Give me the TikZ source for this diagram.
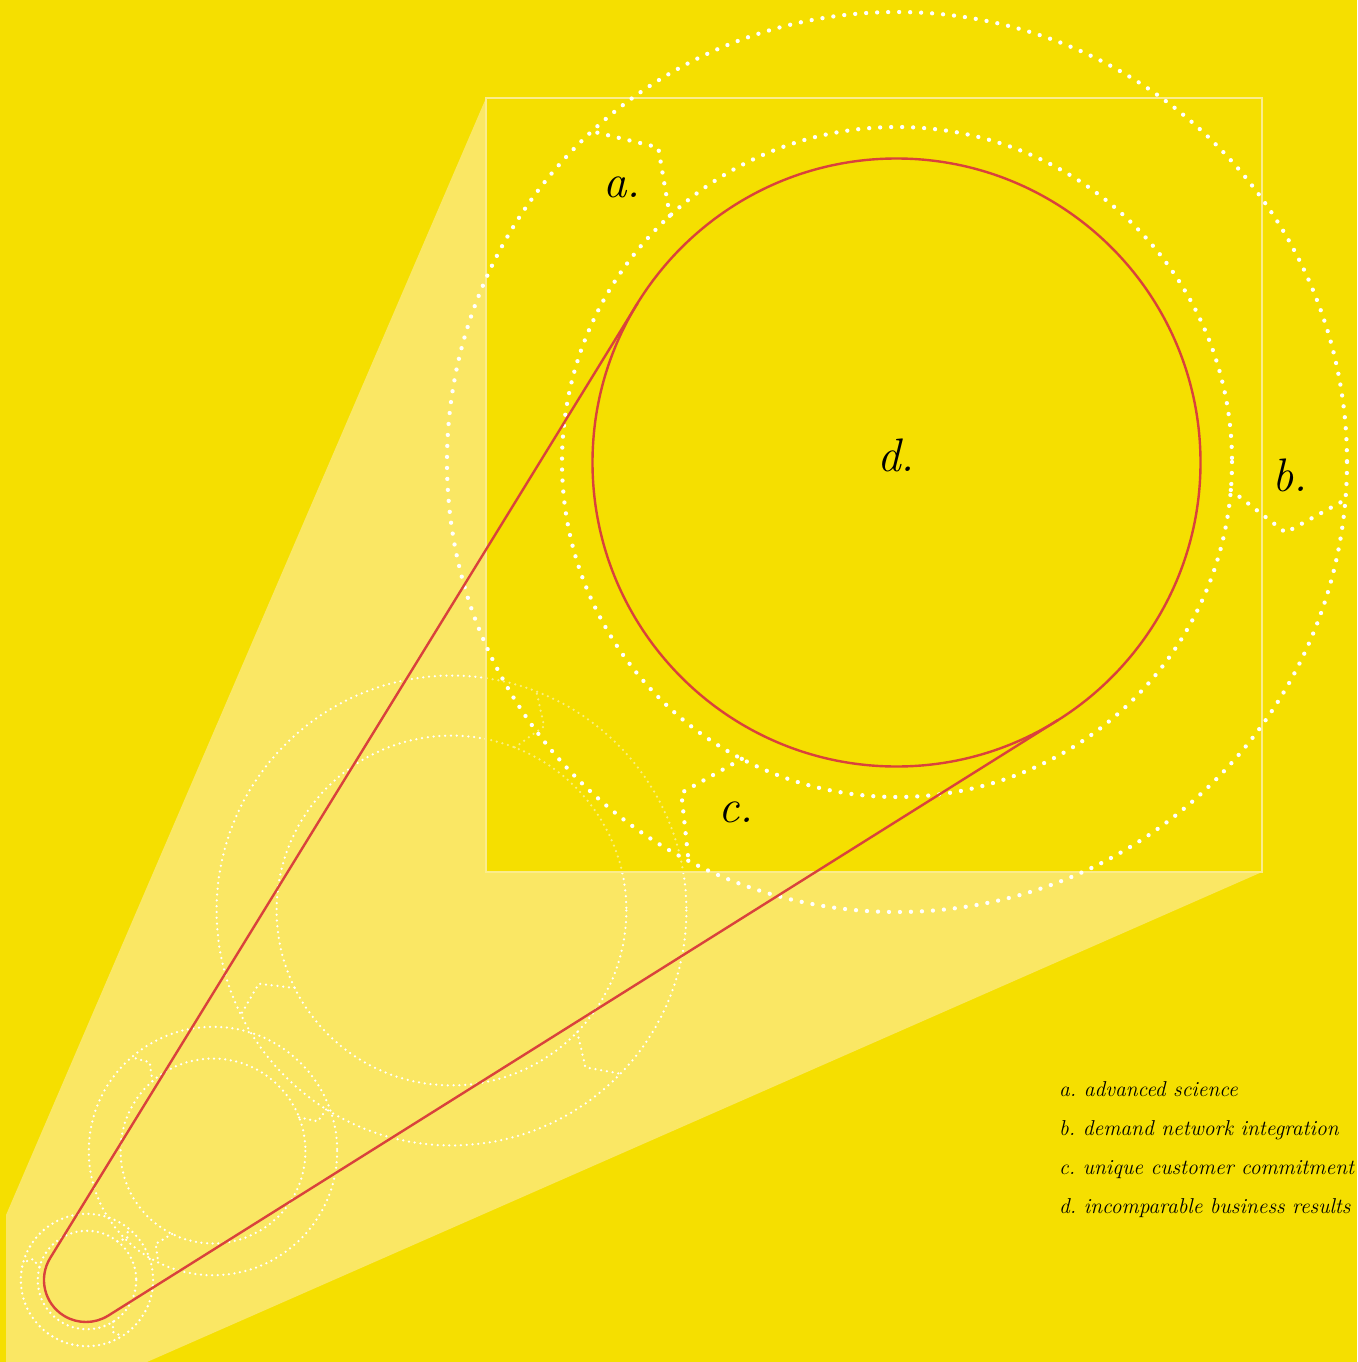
\documentclass[tikz,border=0pt]{standalone}
\usetikzlibrary{calc}
\definecolor{bgY}{RGB}{245,223,0}
\definecolor{coneY}{RGB}{250,231,100}
\definecolor{beltR}{RGB}{217,66,60}
\definecolor{edgeY}{RGB}{251,236,140}
\tikzset{
  gdot/.style 2 args={white, line width=#1, dash pattern=on 0pt off #2, line cap=round},
  biglabel/.style={font=\fontsize{47}{50}\selectfont\itshape, text=black, inner sep=0pt},
  legend/.style={font=\fontsize{21.5}{25}\selectfont\itshape, text=black, anchor=base west, inner sep=0pt}
}
% #1 cx, #2 cy, #3 scale, #4 rotation (y-down degrees), #5 dot width, #6 dot gap
\newcommand\gearfig[6]{%
  \draw[gdot={#5}{#6}] (#1,#2) circle[radius=450*#3];
  \draw[gdot={#5}{#6}] (#1,#2) circle[radius=335*#3];
  \foreach \t in {227.3,4.8,117.6}{%
    \draw[gdot={#5}{#6}, shift={(#1,#2)}]
      (\t+#4:335*#3) -- (\t+#4+5.5:395*#3) -- (\t+#4:450*#3);
  }%
}
\begin{document}
\begin{tikzpicture}[x=1pt,y=-1pt]
\fill[bgY] (0,0) rectangle (1357,1362);
\useasboundingbox (0,0) rectangle (1357,1362);
% light cone
\fill[coneY] (6,1362) -- (6,1215) -- (486,98) -- (486,872) -- (1262,872) -- (147,1362) -- cycle;
% smaller copies
\gearfig{451.5}{910.5}{0.522}{-73.6}{2.5pt}{5.8pt}
\gearfig{213}{1151}{0.276}{111.4}{2.5pt}{5.6pt}
\gearfig{87}{1280}{0.147}{-169.3}{2.6pt}{5.4pt}
% square
\fill[bgY, opacity=0.5] (486,98) rectangle (1262,872);
\draw[edgeY, line width=1.6pt] (486,98) rectangle (1262,872);
% big figure
\gearfig{897}{462}{1}{0}{4.3pt}{11pt}
% belt
\coordinate (bigC) at (896.5,462.5);
\coordinate (smC) at (86,1280);
\coordinate (t1) at (637.6,303.2);
\coordinate (t2) at (50.2,1258.0);
\coordinate (t4) at (1058.0,720.0);
\draw[beltR, line width=2.4pt] (bigC) circle[radius=304];
\draw[beltR, line width=2.4pt, line join=round] (t1) -- (t2) arc[start angle=211.59, end angle=57.91, radius=42] -- (t4);
% labels
\node[biglabel] (la) at (622,187) {a.};
\node[biglabel] (lb) at (1290,475) {b.};
\node[biglabel] (lc) at (736,812) {c.};
\node[biglabel] (ld) at (896,455) {d.};
% legend
\node[legend] (k1) at (1059,1096) {a.\ advanced science};
\node[legend] (k2) at (1059,1135) {b.\ demand network integration};
\node[legend] (k3) at (1059,1174) {c.\ unique customer commitment};
\node[legend] (k4) at (1059,1213) {d.\ incomparable business results};
\end{tikzpicture}
\end{document}
